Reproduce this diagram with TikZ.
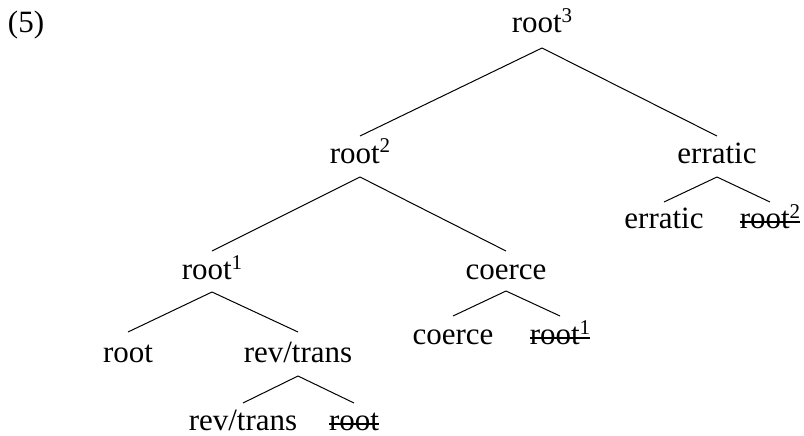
\documentclass[tikz,border=0pt]{standalone}
\usepackage{fontspec}
\setmainfont{Liberation Serif}
\usetikzlibrary{calc}
\newcommand\supnum[1]{\raisebox{10pt}{\fontsize{21}{22}\selectfont #1}}
\tikzset{
  lab/.style={anchor=base, inner sep=0pt, outer sep=0pt, font=\fontsize{31}{36}\selectfont},
  branch/.style={line width=1pt},
  strike/.style={line width=2.4pt},
}
\begin{document}
\begin{tikzpicture}[x=1pt,y=-1pt]
\useasboundingbox (0,0) rectangle (804,436);
\node[lab, anchor=base west] (n5) at (8,33) {(5)};
\node[lab] (r3) at (542,33) {root\supnum{3}};
\node[lab] (r2) at (360,163) {root\supnum{2}};
\node[lab] (e1) at (717,163) {erratic};
\node[lab] (el) at (664,228) {erratic};
\node[lab] (sr2) at (770,228) {root\supnum{2}};
\node[lab] (r1) at (212,279) {root\supnum{1}};
\node[lab] (c1) at (506,279) {coerce};
\node[lab] (cl) at (453,344) {coerce};
\node[lab] (sr1) at (560,344) {root\supnum{1}};
\node[lab] (rt) at (128,362) {root};
\node[lab] (rv) at (298,362) {rev/trans};
\node[lab] (rvl) at (243,430) {rev/trans};
\node[lab] (sr) at (354,430) {root};
% branches
\draw[branch] ($(r3.base)+(0,15)$) -- ($(r2.base)+(0,-27)$);
\draw[branch] ($(r3.base)+(0,15)$) -- ($(e1.base)+(0,-27)$);
\draw[branch] ($(e1.base)+(0,14)$) -- ($(el.base)+(0,-26)$);
\draw[branch] ($(e1.base)+(0,14)$) -- ($(sr2.base)+(0,-26)$);
\draw[branch] ($(r2.base)+(0,14)$) -- ($(r1.base)+(0,-28)$);
\draw[branch] ($(r2.base)+(0,14)$) -- ($(c1.base)+(0,-28)$);
\draw[branch] ($(c1.base)+(0,12)$) -- ($(cl.base)+(0,-28)$);
\draw[branch] ($(c1.base)+(0,12)$) -- ($(sr1.base)+(0,-28)$);
\draw[branch] ($(r1.base)+(0,13)$) -- ($(rt.base)+(0,-30)$);
\draw[branch] ($(r1.base)+(0,13)$) -- ($(rv.base)+(0,-30)$);
\draw[branch] ($(rv.base)+(0,14)$) -- ($(rvl.base)+(0,-27)$);
\draw[branch] ($(rv.base)+(0,14)$) -- ($(sr.base)+(0,-27)$);
% strike-throughs
\draw[strike] ($(sr2.base west)+(0,-6)$) -- ($(sr2.base east)+(0,-6)$);
\draw[strike] ($(sr1.base west)+(0,-6)$) -- ($(sr1.base east)+(0,-6)$);
\draw[strike] ($(sr.base west)+(0,-6)$) -- ($(sr.base east)+(0,-6)$);
\end{tikzpicture}
\end{document}
